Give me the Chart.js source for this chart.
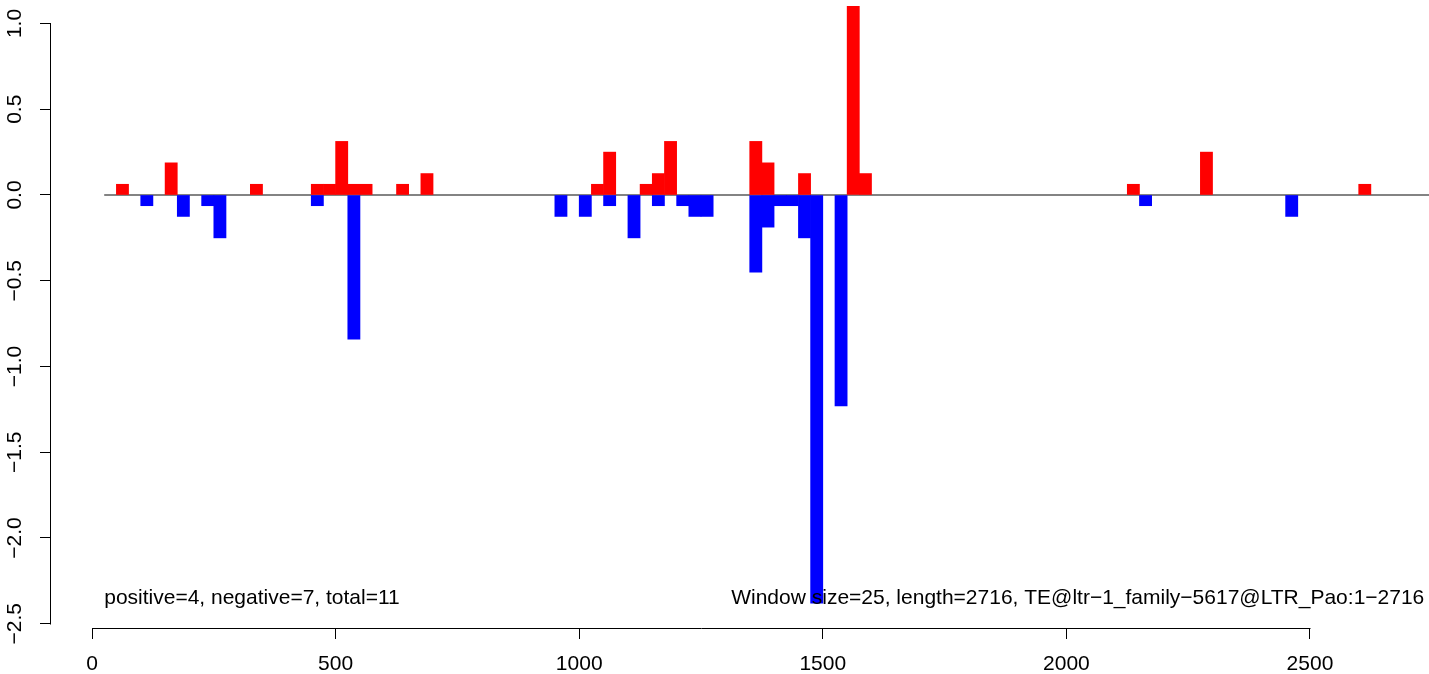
<!DOCTYPE html>
<html>
<head>
<meta charset="utf-8">
<script src="https://cdn.jsdelivr.net/npm/chart.js@4"></script>
<style>
  html, body { margin: 0; padding: 0; background: #fff; }
  #wrap { width: 1429px; height: 674px; }
</style>
</head>
<body>
<div id="wrap"><canvas id="plot" width="1429" height="674"></canvas></div>
<script>
// window centres (window size 25) and scores
const posX = [62.5, 162.5, 337.5, 462.5, 487.5, 512.5, 537.5, 562.5, 637.5, 687.5,
              1037.5, 1062.5, 1137.5, 1162.5, 1187.5, 1362.5, 1387.5, 1462.5, 1562.5, 1587.5,
              2137.5, 2287.5, 2612.5];
const posY = [0.0625, 0.1875, 0.0625, 0.0625, 0.0625, 0.3125, 0.0625, 0.0625, 0.0625, 0.125,
              0.0625, 0.25, 0.0625, 0.125, 0.3125, 0.3125, 0.1875, 0.125, 1.1, 0.125,
              0.0625, 0.25, 0.0625];

const negX = [112.5, 187.5, 237.5, 262.5, 462.5, 537.5, 962.5, 1012.5, 1062.5, 1112.5,
              1162.5, 1212.5, 1237.5, 1262.5, 1362.5, 1387.5, 1412.5, 1437.5, 1462.5, 1487.5,
              1537.5, 2162.5, 2462.5];
const negY = [-0.0625, -0.125, -0.0625, -0.25, -0.0625, -0.84, -0.125, -0.125, -0.0625, -0.25,
              -0.0625, -0.0625, -0.125, -0.125, -0.45, -0.1875, -0.0625, -0.0625, -0.25, -2.38,
              -1.23, -0.0625, -0.125];

const baseLineX = [25, 2760];

const xTicks = [0, 500, 1000, 1500, 2000, 2500];
const yTicks = [1.0, 0.5, 0.0, -0.5, -1.0, -1.5, -2.0, -2.5];

const noteLeft = 'positive=4, negative=7, total=11';
const noteRight = 'Window size=25, length=2716, TE@ltr\u22121_family\u22125617@LTR_Pao:1\u22122716';

const FONT = "'Liberation Sans', Arial, Helvetica, sans-serif";

function toPoints(xs, ys) {
    return xs.map((x, i) => ({ x: x, y: ys[i] }));
}

// R style axis lines: only from first to last tick
const axisLines = {
    id: 'axisLines',
    afterDraw(chart) {
        const ctx = chart.ctx;
        const xs = chart.scales.x, ys = chart.scales.y;
        const area = chart.chartArea;
        ctx.save();
        ctx.strokeStyle = '#000';
        ctx.lineWidth = 1;
        ctx.beginPath();
        const yb = Math.round(area.bottom) + 0.5;
        ctx.moveTo(Math.round(xs.getPixelForValue(xTicks[0])) + 0.5, yb);
        ctx.lineTo(Math.round(xs.getPixelForValue(xTicks[xTicks.length - 1])) + 0.5, yb);
        const xl = Math.round(area.left) - 0.5;
        ctx.moveTo(xl, Math.round(ys.getPixelForValue(yTicks[0])) + 0.5);
        ctx.lineTo(xl, Math.round(ys.getPixelForValue(yTicks[yTicks.length - 1])) + 0.5);
        ctx.stroke();

        // notes at the foot of the plot
        ctx.fillStyle = '#000';
        ctx.font = '21px ' + FONT;
        ctx.textBaseline = 'middle';
        ctx.textAlign = 'left';
        const ny = ys.getPixelForValue(-2.35);
        ctx.fillText(noteLeft, xs.getPixelForValue(25), ny);
        ctx.fillText(noteRight, xs.getPixelForValue(1312), ny);
        ctx.restore();
    }
};

new Chart(document.getElementById('plot'), {
    type: 'bar',
    data: {
        datasets: [
            {
                label: 'positive',
                data: toPoints(posX, posY),
                backgroundColor: '#ff0000',
                borderWidth: 0,
                grouped: false,
                barPercentage: 1,
                categoryPercentage: 1,
                order: 1
            },
            {
                label: 'negative',
                data: toPoints(negX, negY),
                backgroundColor: '#0000ff',
                borderWidth: 0,
                grouped: false,
                barPercentage: 1,
                categoryPercentage: 1,
                order: 2
            },
            {
                type: 'line',
                label: 'zero',
                data: toPoints(baseLineX, [0, 0]),
                borderColor: '#5a5a5a',
                borderWidth: 1.3,
                pointRadius: 0,
                fill: false,
                order: 10
            }
        ]
    },
    options: {
        responsive: false,
        animation: false,
        devicePixelRatio: 1,
        layout: { padding: 0 },
        plugins: {
            legend: { display: false },
            tooltip: { enabled: false }
        },
        scales: {
            x: {
                type: 'linear',
                offset: false,
                min: -84.2,
                max: 2744.3,
                afterBuildTicks: s => { s.ticks = xTicks.map(v => ({ value: v })); },
                afterFit: s => { s.height = 46; s.paddingLeft = 0; s.paddingRight = 0; },
                grid: { offset: false, drawOnChartArea: false, drawTicks: true, tickLength: 11, color: '#000', lineWidth: 1 },
                border: { display: false },
                ticks: {
                    color: '#000',
                    font: { family: FONT, size: 21 },
                    padding: 13,
                    maxRotation: 0,
                    autoSkip: false,
                    callback: v => String(v)
                }
            },
            y: {
                type: 'linear',
                min: -2.5248,
                max: 1.1370,
                afterBuildTicks: s => { s.ticks = yTicks.map(v => ({ value: v })); },
                afterFit: s => { s.width = 51; s.paddingTop = 0; s.paddingBottom = 0; },
                grid: { drawOnChartArea: false, drawTicks: true, tickLength: 11, color: '#000', lineWidth: 1 },
                border: { display: false },
                ticks: {
                    color: '#000',
                    font: { family: FONT, size: 21 },
                    padding: 4,
                    minRotation: 90,
                    maxRotation: 90,
                    crossAlign: 'center',
                    autoSkip: false,
                    callback: v => v.toFixed(1).replace('-', '\u2212')
                }
            }
        }
    },
    plugins: [axisLines]
});
</script>
</body>
</html>
